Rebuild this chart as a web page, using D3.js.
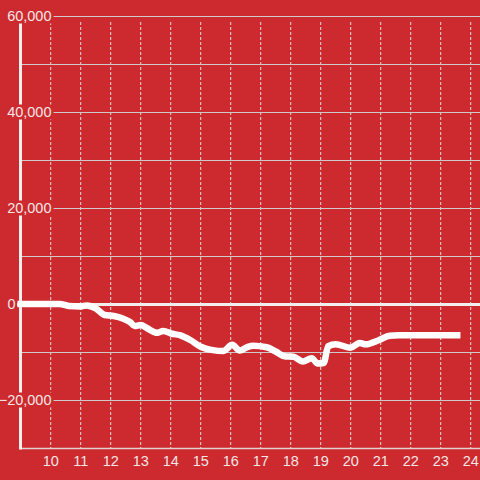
<!DOCTYPE html>
<html>
<head>
<meta charset="utf-8">
<script src="https://cdn.jsdelivr.net/npm/d3@7"></script>
<style>
html,body{margin:0;padding:0;background:#cc2a2f;}
svg{display:block;}
text{font-family:"Liberation Sans",Arial,sans-serif;}
</style>
</head>
<body>
<svg id="chart" width="480" height="480"></svg>
<script>
// Data
const hours = [9, 10.3, 10.6, 11.0, 11.2, 11.5, 11.8, 12.1, 12.4, 12.65, 12.8, 13.0, 13.2, 13.55, 13.75, 14.05, 14.3, 14.65, 15.0, 15.4, 15.75, 16.05, 16.3, 16.55, 16.75, 17.2, 17.5, 17.8, 18.1, 18.4, 18.7, 18.9, 19.1, 19.25, 19.5, 20.0, 20.3, 20.5, 20.95, 21.3, 21.6, 23.55];
const values = [0, 0, -400, -500, -300, -900, -2300, -2500, -3000, -3800, -4600, -4400, -5000, -6000, -5600, -6200, -6500, -7500, -8900, -9600, -9800, -8500, -9700, -9000, -8700, -9000, -9900, -10900, -11000, -12000, -11300, -12400, -12300, -8800, -8400, -9100, -8100, -8400, -7500, -6600, -6500, -6500];
const xTicks = [10, 11, 12, 13, 14, 15, 16, 17, 18, 19, 20, 21, 22, 23, 24];
const yGrid = [60000, 50000, 40000, 30000, 20000, 10000, 0, -10000, -20000];
const yLabels = [60000, 40000, 20000, -20000];
const zeroLabel = [0];

const bg = "#cc2a2f";
const svg = d3.select("#chart");
const x = d3.scaleLinear().domain([9, 24]).range([20.7, 470.7]);
const y = d3.scaleLinear().domain([-30000, 60000]).range([448, 16]);
const fmt = d3.format(",");

svg.append("rect").attr("width", 480).attr("height", 480).attr("fill", bg);

// vertical dotted grid
svg.append("g").selectAll("line").data(xTicks).join("line")
  .attr("x1", d => x(d)).attr("x2", d => x(d))
  .attr("y1", 22).attr("y2", 448)
  .attr("stroke", "#e8dcdc").attr("stroke-width", 1)
  .attr("stroke-dasharray", "3,2");

// horizontal grid
svg.append("g").selectAll("line").data(yGrid).join("line")
  .attr("x1", 21).attr("x2", 480)
  .attr("y1", d => y(d) + 0.5).attr("y2", d => y(d) + 0.5)
  .attr("stroke", "#cfc9c9").attr("stroke-width", 1.2);

// bottom axis line
svg.append("line").attr("x1", 20).attr("x2", 480).attr("y1", 448.5).attr("y2", 448.5)
  .attr("stroke", "#ddd0d0").attr("stroke-width", 1.5);

// y axis line
svg.append("line").attr("x1", 20.5).attr("x2", 20.5).attr("y1", 16).attr("y2", 449.5)
  .attr("stroke", "#f2eeee").attr("stroke-width", 3);

// y labels with background
const yl = svg.append("g").selectAll("g").data(yLabels).join("g")
  .attr("transform", d => `translate(51.5,${y(d)})`);
yl.each(function(d) {
  const g = d3.select(this);
  const t = g.append("text").text(fmt(d))
    .attr("text-anchor", "end").attr("dy", "0.35em")
    .attr("font-size", 14.5).attr("fill", "#f3e6e6");
  const bb = t.node().getBBox();
  g.insert("rect", "text")
    .attr("x", bb.x - 2).attr("y", -7.5)
    .attr("width", bb.width + 4).attr("height", 15)
    .attr("fill", bg);
});

// zero label
svg.append("g").selectAll("text").data(zeroLabel).join("text")
  .attr("x", 7.5).attr("y", d => y(d)).attr("dy", "0.35em")
  .attr("font-size", 14.5).attr("fill", "#f3e6e6")
  .text(d => fmt(d));

// zero line
svg.append("line").attr("x1", 17).attr("x2", 480).attr("y1", y(0) + 0.5).attr("y2", y(0) + 0.5)
  .attr("stroke", "#f2eeee").attr("stroke-width", 3);

// x labels
svg.append("g").selectAll("text").data(xTicks).join("text")
  .attr("x", d => x(d)).attr("y", 466)
  .attr("text-anchor", "middle").attr("font-size", 14.5).attr("fill", "#f3e6e6")
  .text(d => d);

// data line
const line = d3.line().x((d, i) => x(hours[i])).y(d => y(d)).curve(d3.curveMonotoneX);
svg.append("path").datum(values)
  .attr("d", line)
  .attr("fill", "none").attr("stroke", "#ffffff").attr("stroke-width", 6.5)
  .attr("stroke-linecap", "square").attr("stroke-linejoin", "round");
</script>
</body>
</html>
